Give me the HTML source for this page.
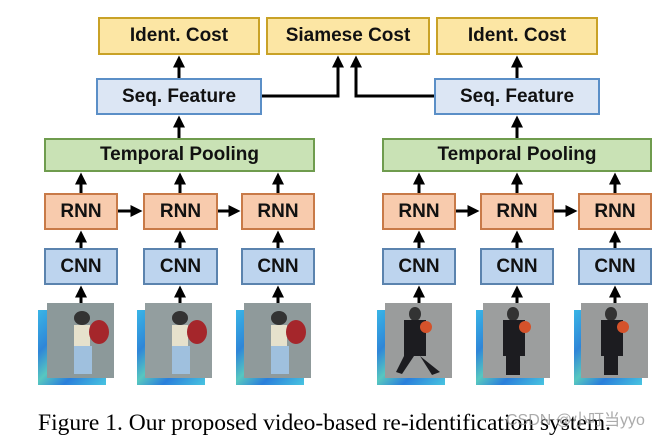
<!DOCTYPE html>
<html><head><meta charset="utf-8"><style>
body{margin:0;width:665px;height:438px;background:#fff;position:relative;overflow:hidden;font-family:"Liberation Sans",sans-serif}
.b{position:absolute;box-sizing:border-box;display:flex;align-items:center;justify-content:center;font-weight:bold;font-size:19px;color:#111}
.y{background:#fce6a4;border:2px solid #c9a227}
.s{background:#dce6f4;border:2px solid #5b8fc7}
.g{background:#c9e2b5;border:2px solid #6f9c4e}
.r{background:#f8cbad;border:2px solid #c87a48}
.c{background:#bdd4ee;border:2px solid #5b83ae}
.h{position:absolute;width:68px;height:75px;background:linear-gradient(135deg,#39b5e6,#2f86d8 30%,#57c7c0 50%,#2a7fdb 70%,#48c4e0)}
.p{position:absolute;width:67px;height:75px}
svg{position:absolute;left:0;top:0}
</style></head><body>
<div class="b y" style="left:98px;top:17px;width:162px;height:38px">Ident. Cost</div>
<div class="b y" style="left:266px;top:17px;width:164px;height:38px">Siamese Cost</div>
<div class="b y" style="left:436px;top:17px;width:162px;height:38px">Ident. Cost</div>
<div class="b s" style="left:96px;top:78px;width:166px;height:37px">Seq. Feature</div>
<div class="b s" style="left:434px;top:78px;width:166px;height:37px">Seq. Feature</div>
<div class="b g" style="left:44px;top:138px;width:271px;height:34px">Temporal Pooling</div>
<div class="b g" style="left:382px;top:138px;width:270px;height:34px">Temporal Pooling</div>
<div class="b r" style="left:44px;top:193px;width:74px;height:37px">RNN</div>
<div class="b r" style="left:143px;top:193px;width:75px;height:37px">RNN</div>
<div class="b r" style="left:241px;top:193px;width:74px;height:37px">RNN</div>
<div class="b r" style="left:382px;top:193px;width:74px;height:37px">RNN</div>
<div class="b r" style="left:480px;top:193px;width:74px;height:37px">RNN</div>
<div class="b r" style="left:578px;top:193px;width:74px;height:37px">RNN</div>
<div class="b c" style="left:44px;top:248px;width:74px;height:37px">CNN</div>
<div class="b c" style="left:143px;top:248px;width:75px;height:37px">CNN</div>
<div class="b c" style="left:241px;top:248px;width:74px;height:37px">CNN</div>
<div class="b c" style="left:382px;top:248px;width:74px;height:37px">CNN</div>
<div class="b c" style="left:480px;top:248px;width:74px;height:37px">CNN</div>
<div class="b c" style="left:578px;top:248px;width:74px;height:37px">CNN</div>

<div class="h" style="left:38px;top:310px"></div><div class="h" style="left:137px;top:310px"></div><div class="h" style="left:236px;top:310px"></div>
<div class="h" style="left:377px;top:310px"></div><div class="h" style="left:476px;top:310px"></div><div class="h" style="left:574px;top:310px"></div>
<div class="p" style="left:47px;top:303px;background:#8c999a"></div><div class="p" style="left:145px;top:303px;background:#939e9f"></div><div class="p" style="left:244px;top:303px;background:#8f9a9b"></div>
<div class="p" style="left:385px;top:303px;background:#9a9c9c"></div><div class="p" style="left:483px;top:303px;background:#9c9e9e"></div><div class="p" style="left:581px;top:303px;background:#999b9b"></div>

<svg width="665" height="438">
<defs><marker id="a" markerWidth="4" markerHeight="4" refX="2.5" refY="2" orient="auto" markerUnits="strokeWidth"><path d="M0,0L4,2L0,4z" fill="#000"/></marker></defs>
<g fill="none" stroke="#000" stroke-width="3">
<g stroke="none">
<ellipse cx="82" cy="318" rx="8" ry="7" fill="#333"/><rect x="74" y="325" width="16" height="22" fill="#e6e1cc"/><ellipse cx="99" cy="332" rx="10" ry="12" fill="#a5262b"/><rect x="74" y="346" width="18" height="28" fill="#9fc0de"/>
<ellipse cx="180" cy="318" rx="8" ry="7" fill="#333"/><rect x="172" y="325" width="16" height="22" fill="#e6e1cc"/><ellipse cx="197" cy="332" rx="10" ry="12" fill="#a5262b"/><rect x="172" y="346" width="18" height="28" fill="#9fc0de"/>
<ellipse cx="279" cy="318" rx="8" ry="7" fill="#333"/><rect x="271" y="325" width="16" height="22" fill="#e6e1cc"/><ellipse cx="296" cy="332" rx="10" ry="12" fill="#a5262b"/><rect x="271" y="346" width="18" height="28" fill="#9fc0de"/>
<ellipse cx="415" cy="314" rx="6" ry="7" fill="#333"/><rect x="404" y="320" width="22" height="36" fill="#1c1c20"/><ellipse cx="426" cy="327" rx="6" ry="6" fill="#d4522a"/><path d="M404 356L396 372L402 374L414 356M420 356L440 372L432 375z" fill="#1c1c20"/>
<ellipse cx="513" cy="314" rx="6" ry="7" fill="#333"/><rect x="503" y="320" width="22" height="36" fill="#1c1c20"/><ellipse cx="525" cy="327" rx="6" ry="6" fill="#d4522a"/><rect x="506" y="355" width="14" height="20" fill="#1c1c20"/>
<ellipse cx="611" cy="314" rx="6" ry="7" fill="#333"/><rect x="601" y="320" width="22" height="36" fill="#1c1c20"/><ellipse cx="623" cy="327" rx="6" ry="6" fill="#d4522a"/><rect x="604" y="355" width="14" height="20" fill="#1c1c20"/>
</g>
<g marker-end="url(#a)">
<path d="M81 303V290"/><path d="M180 303V290"/><path d="M278 303V290"/><path d="M419 303V290"/><path d="M517 303V290"/><path d="M615 303V290"/>
<path d="M81 248V235"/><path d="M180 248V235"/><path d="M278 248V235"/><path d="M419 248V235"/><path d="M517 248V235"/><path d="M615 248V235"/>
<path d="M81 193V177"/><path d="M180 193V177"/><path d="M278 193V177"/><path d="M419 193V177"/><path d="M517 193V177"/><path d="M615 193V177"/>
<path d="M179 138V120"/><path d="M517 138V120"/>
<path d="M179 78V60"/><path d="M517 78V60"/>
<path d="M118 211H138"/><path d="M218 211H236"/><path d="M456 211H475"/><path d="M554 211H573"/>
<path d="M262 96H338V60"/><path d="M434 96H356V60"/>
</g>
</g>
</svg>
<div style="position:absolute;left:38px;top:410px;font-family:'Liberation Serif',serif;font-size:23.5px;color:#000;white-space:nowrap">Figure 1. Our proposed video-based re-identification system.</div>
<div style="position:absolute;left:506px;top:406px;font-family:'Liberation Sans','Noto Sans CJK SC',sans-serif;font-size:16px;color:rgba(150,150,150,0.8)">CSDN @小叮当yyo</div>
</body></html>
